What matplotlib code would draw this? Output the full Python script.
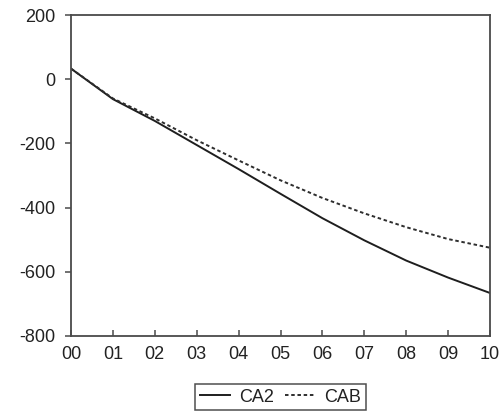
import numpy as np
import matplotlib
matplotlib.use("Agg")
import matplotlib.pyplot as plt

# -------------------------------
# Data
# -------------------------------
years = [0, 1, 2, 3, 4, 5, 6, 7, 8, 9, 10]
year_labels = ["00", "01", "02", "03", "04", "05", "06", "07", "08", "09", "10"]
ca2 = [33, -62, -130, -205, -280, -357, -433, -502, -565, -618, -666]
cab = [33, -60, -122, -190, -253, -315, -370, -418, -461, -498, -525]
y_ticks = [200, 0, -200, -400, -600, -800]

plt.rcParams['font.family'] = ['Liberation Sans', 'DejaVu Sans']
plt.rcParams['axes.unicode_minus'] = False

fig = plt.figure(figsize=(5.03, 4.17), dpi=100)
ax = fig.add_axes([71 / 503, 81 / 417, 419 / 503, 321 / 417])

ax.plot(years, ca2, color='#1e1e1e', lw=1.4, label='CA2')
ax.plot(years, cab, color='#2e2e2e', lw=1.4, ls=(0, (1.8, 1.4)), label='CAB')

ax.set_xlim(0, 10)
ax.set_ylim(-800, 200)
ax.set_xticks(years)
ax.set_xticklabels(year_labels)
ax.set_yticks(y_ticks)

ax.tick_params(axis='x', direction='in', length=4, width=1.1, pad=7.5,
               labelsize=13, colors='#4a4a4a', labelcolor='#222222')
ax.tick_params(axis='y', direction='out', length=4.5, width=1.1, pad=7,
               labelsize=13, colors='#4a4a4a', labelcolor='#222222')
for s in ax.spines.values():
    s.set_color('#4a4a4a')
    s.set_linewidth(1.3)

leg = ax.legend(loc='upper center', bbox_to_anchor=(0.5, -0.15), ncol=2,
                frameon=True, fancybox=False, fontsize=13, handlelength=1.65,
                handletextpad=0.5, columnspacing=0.65, borderpad=0.25,
                borderaxespad=0)
leg.get_frame().set_edgecolor('#222222')
leg.get_frame().set_linewidth(1.1)
for t in leg.get_texts():
    t.set_color('#222222')

fig.savefig('out.png', dpi=100)
